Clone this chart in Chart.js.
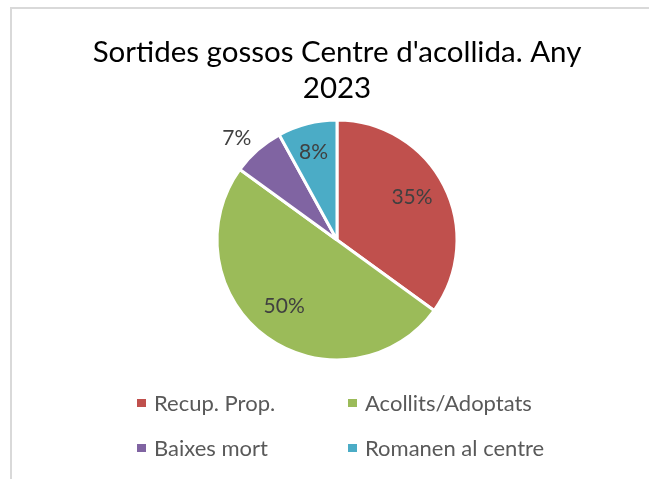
<!DOCTYPE html>
<html>
<head>
<meta charset="utf-8">
<script src="https://cdn.jsdelivr.net/npm/chart.js@4"></script>
<style>
body{margin:0;background:#fff;width:649px;height:479px;overflow:hidden;position:relative;font-family:Lato,"Open Sans",sans-serif}
#frame{position:absolute;left:10px;top:7px;width:700px;height:600px;border-top:2px solid #d9d9d9;border-left:2px solid #d9d9d9}
#wrap{position:absolute;left:0;top:0;width:649px;height:479px}
#legend{position:absolute;left:137px;top:388px;display:grid;grid-template-columns:211px 220px;row-gap:16px;font-size:22px;color:#595959}
#legend div{display:flex;align-items:center;height:29px;white-space:nowrap}
#legend span.box{display:inline-block;width:9px;height:8px;margin-right:8px}
</style>
</head>
<body>
<div id="frame"></div>
<div id="wrap"><canvas id="pieChart"></canvas></div>
<div id="legend"></div>
<script>
var labels=['Recup. Prop.','Acollits/Adoptats','Baixes mort','Romanen al centre']
var values=[35,50,7,8]
var colors=['#C0504D','#9BBB59','#8064A2','#4BACC6']
var titleLines=["Sortides gossos Centre d'acollida. Any",'2023']

// percentage labels, small slices go outside
const pctLabels={
	id:'pctLabels',
	afterDatasetsDraw(chart){
		var ctx=chart.ctx
		var meta=chart.getDatasetMeta(0)
		var total=values.reduce((a,b)=>a+b,0)
		ctx.save()
		ctx.font='21px Lato, "Open Sans", sans-serif'
		ctx.fillStyle='#404040'
		ctx.textAlign='center'
		ctx.textBaseline='middle'
		meta.data.forEach((arc,i)=>{
			var p=arc.getProps(['x','y','startAngle','endAngle','outerRadius'],true)
			var mid=(p.startAngle+p.endAngle)/2
			var pct=values[i]/total*100
			var r=pct<7.5 ? p.outerRadius*1.2 : p.outerRadius*0.72
			var dx=pct<7.5 ? -5 : -2
			var dy=pct<7.5 ? 6 : -4
			ctx.fillText(Math.round(pct)+'%',p.x+Math.cos(mid)*r+dx,p.y+Math.sin(mid)*r+dy)
		})
		ctx.restore()
	}
}

new Chart(document.getElementById('pieChart'),{
	type:'pie',
	data:{
		labels:labels,
		datasets:[{
			data:values,
			backgroundColor:colors,
			borderColor:'#ffffff',
			borderWidth:3,
			hoverOffset:0
		}]
	},
	options:{
		responsive:true,
		maintainAspectRatio:false,
		animation:false,
		radius:120,
		layout:{padding:{left:25,right:0,top:0,bottom:119}},
		plugins:{
			legend:{display:false},
			tooltip:{enabled:false},
			title:{
				display:true,
				text:titleLines,
				color:'#000000',
				font:{family:'Lato, "Open Sans", sans-serif',size:29.5,weight:'normal',lineHeight:1.22},
				padding:{top:34,bottom:14}
			}
		}
	},
	plugins:[pctLabels]
})

var lg=document.getElementById('legend')
labels.forEach((l,i)=>{
	var d=document.createElement('div')
	d.innerHTML='<span class="box" style="background:'+colors[i]+'"></span>'+l
	lg.appendChild(d)
})
</script>
</body>
</html>
